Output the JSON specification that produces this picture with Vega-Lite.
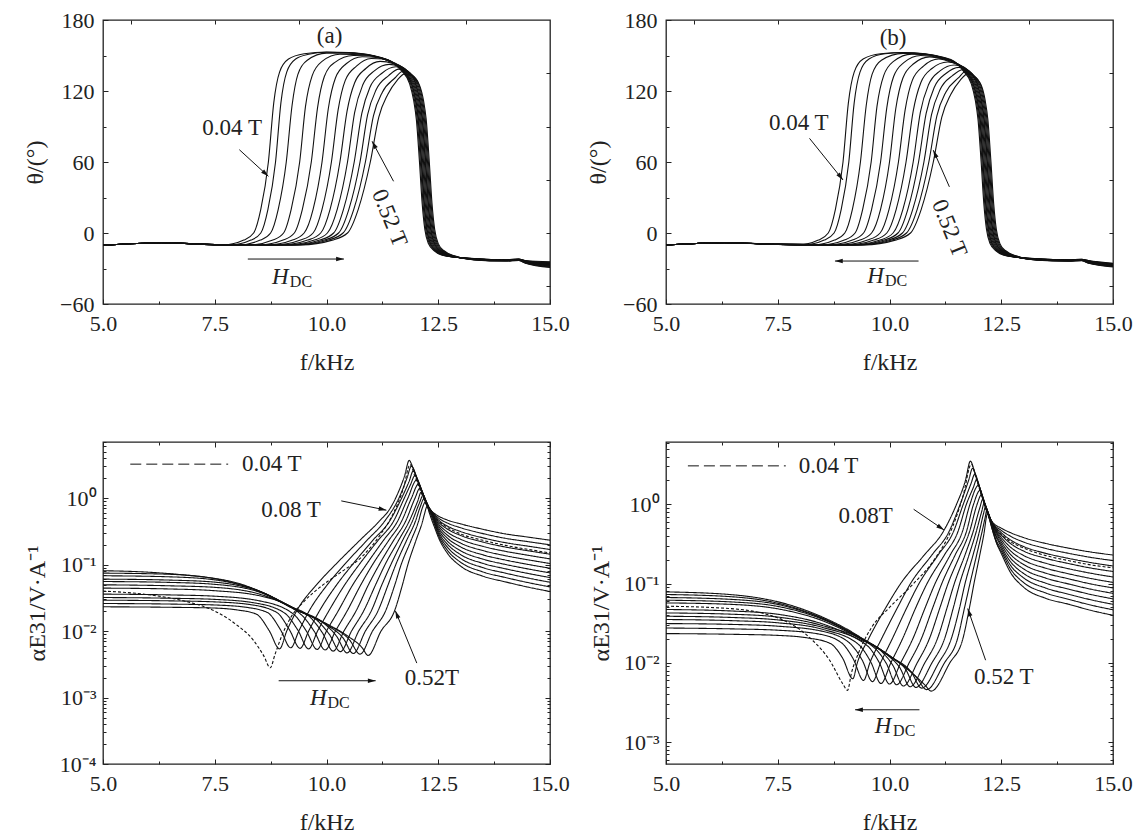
{
"$schema":"https://vega.github.io/schema/vega-lite/v6.json",
"background":"white",
"padding":{"left":22,"top":8,"right":5,"bottom":5},
"columns":2,
"align":"each",
"spacing":{"row":55,"column":15},
"config":{
 "view":{"stroke":"#222","strokeWidth":1.3},
 "axis":{"labelFont":"Liberation Serif","labelFontSize":22,"labelColor":"#222","titleFont":"Liberation Serif","titleFontSize":24,"titleFontWeight":"normal","titleColor":"#222","grid":false,"domain":false,"tickColor":"#222","tickWidth":1,"labelFlush":false,"labelOverlap":false,"labelBound":false},
 "text":{"font":"Liberation Serif","color":"#222"}
},
"datasets":{
"ta":[
{"h":"0.04","f":[5,6.3,7.5,7.7,8.15,8.37,8.53,8.7,8.82,8.95,9.15,9.5,10,10.5,10.9,11.2,11.45,11.68,11.86,11.95,12.01,12.08,12.14,12.2,12.28,12.41,12.66,13.3,14,14.3,14.45,15],"v":[-10.5,-8.2,-9.8,-10,-6,0,20,60,110,136,147,151.5,153,152.5,151,148.5,145,137,126,112,96,60,25,3,-9,-15,-19.5,-21.5,-22.5,-22,-23.2,-24.3]},
{"h":"0.08","f":[5,6.3,7.5,7.86,8.31,8.53,8.69,8.86,8.98,9.11,9.31,9.6,10,10.5,10.9,11.2,11.45,11.7,11.88,11.97,12.03,12.1,12.16,12.22,12.3,12.43,12.68,13.3,14,14.3,14.45,15],"v":[-10.5,-8.2,-9.8,-10,-6,0,20,60,110,136,147,151,152.8,152.3,150.8,148.3,144.8,137,126,112,96,60,25,3,-9,-15,-19.5,-21.6,-22.6,-22.1,-23.4,-24.7]},
{"h":"0.12","f":[5,6.3,7.5,8.05,8.52,8.75,8.92,9.1,9.23,9.36,9.57,10,10.5,10.9,11.2,11.45,11.71,11.9,11.99,12.05,12.12,12.18,12.24,12.32,12.45,12.7,13.3,14,14.3,14.45,15],"v":[-10.5,-8.2,-9.8,-10,-6,0,20,60,108,134,146,152,152,150.5,148,144.5,137,126,112,96,60,25,3,-9,-15,-19.5,-21.7,-22.7,-22.2,-23.6,-25.1]},
{"h":"0.16","f":[5,6.3,7.5,8.3,8.8,9.04,9.21,9.4,9.53,9.68,9.9,10.3,10.9,11.2,11.45,11.73,11.91,12,12.06,12.13,12.19,12.25,12.33,12.46,12.71,13.3,14,14.3,14.45,15],"v":[-10.5,-8.2,-9.8,-10,-6,0,20,60,107,133,145,151,150.5,148,144.5,137,126,112,96,60,25,3,-9,-15,-19.5,-21.8,-22.8,-22.3,-23.8,-25.5]},
{"h":"0.20","f":[5,6.3,7.5,8.51,9.03,9.28,9.46,9.66,9.8,9.95,10.18,10.6,10.95,11.2,11.45,11.75,11.93,12.02,12.08,12.15,12.21,12.27,12.35,12.48,12.73,13.3,14,14.3,14.45,15],"v":[-10.5,-8.2,-9.8,-10,-6,0,20,60,106,132,144,150,149.8,148,144.5,137,126,112,96,60,25,3,-9,-15,-19.5,-21.9,-22.9,-22.4,-24,-25.9]},
{"h":"0.24","f":[5,6.3,7.5,8.7,9.24,9.5,9.7,9.9,10.04,10.2,10.44,10.8,11.2,11.45,11.77,11.95,12.04,12.1,12.17,12.23,12.29,12.37,12.5,12.75,13.3,14,14.3,14.45,15],"v":[-10.5,-8.2,-9.8,-10,-6,0,20,60,105,131,143,149,148,144.5,137,126,112,96,60,25,3,-9,-15,-19.5,-22,-23,-22.5,-24.2,-26.3]},
{"h":"0.28","f":[5,6.3,7.5,8.86,9.42,9.7,9.9,10.11,10.26,10.42,10.67,11,11.3,11.5,11.79,11.97,12.06,12.12,12.19,12.25,12.31,12.39,12.52,12.77,13.3,14,14.3,14.45,15],"v":[-10.5,-8.2,-9.8,-10,-6,0,20,60,104,129,141,147.5,147,144,137,126,112,96,60,25,3,-9,-15,-19.5,-22.1,-23.1,-22.6,-24.4,-26.7]},
{"h":"0.32","f":[5,6.3,7.5,9,9.58,9.87,10.08,10.3,10.46,10.63,10.88,11.2,11.5,11.81,11.99,12.08,12.14,12.21,12.27,12.33,12.41,12.54,12.79,13.3,14,14.3,14.45,15],"v":[-10.5,-8.2,-9.8,-10,-6,0,20,60,103,127,139,145,143,137,126,112,96,60,25,3,-9,-15,-19.5,-22.2,-23.2,-22.7,-24.6,-27.1]},
{"h":"0.36","f":[5,6.3,7.5,9.12,9.73,10.02,10.24,10.47,10.63,10.81,11.07,11.4,11.83,12,12.09,12.15,12.22,12.28,12.34,12.42,12.55,12.8,13.3,14,14.3,14.45,15],"v":[-10.5,-8.2,-9.8,-10,-6,0,20,60,102,125,137,142.5,136.5,126,112,96,60,25,3,-9,-15,-19.5,-22.3,-23.3,-22.8,-24.8,-27.5]},
{"h":"0.40","f":[5,6.3,7.5,9.22,9.85,10.16,10.38,10.62,10.79,10.97,11.24,11.55,11.85,12.02,12.11,12.17,12.24,12.3,12.36,12.44,12.57,12.82,13.3,14,14.3,14.45,15],"v":[-10.5,-8.2,-9.8,-10,-6,0,20,60,101,123,135,140.5,135.5,126,112,96,60,25,3,-9,-15,-19.5,-22.4,-23.4,-22.9,-25,-27.9]},
{"h":"0.44","f":[5,6.3,7.5,9.3,9.95,10.27,10.5,10.75,10.92,11.11,11.39,11.62,11.87,12.04,12.13,12.19,12.26,12.32,12.38,12.46,12.59,12.84,13.3,14,14.3,14.45,15],"v":[-10.5,-8.2,-9.8,-10,-6,0,20,60,100,121,133,138.5,135,126,112,96,60,25,3,-9,-15,-19.5,-22.5,-23.5,-23,-25.2,-28.3]},
{"h":"0.48","f":[5,6.3,7.5,9.37,10.04,10.37,10.61,10.87,11.05,11.25,11.53,11.7,11.89,12.06,12.15,12.21,12.28,12.34,12.4,12.48,12.61,12.86,13.3,14,14.3,14.45,15],"v":[-10.5,-8.2,-9.8,-10,-6,0,20,60,99,119,131,136.5,134,126,112,96,60,25,3,-9,-15,-19.5,-22.6,-23.6,-23.1,-25.4,-28.7]},
{"h":"0.52","f":[5,6.3,7.5,9.43,10.13,10.47,10.71,10.98,11.17,11.37,11.58,11.75,11.91,12.08,12.17,12.23,12.3,12.36,12.42,12.5,12.63,12.88,13.3,14,14.3,14.45,15],"v":[-10.5,-8.2,-9.8,-10,-6,0,20,60,98,117,129,134.5,133,125,112,96,60,25,3,-9,-15,-19.5,-22.7,-23.7,-23.2,-25.6,-29.1]}
],
"tb":[
{"h":"0.04","f":[5,6.3,7.5,7.96,8.41,8.63,8.79,8.96,9.08,9.21,9.41,9.8,10.3,10.8,11.2,11.45,11.65,11.83,11.92,11.98,12.05,12.11,12.17,12.25,12.38,12.63,13.3,14,14.3,14.45,15],"v":[-10.2,-8.2,-9.6,-10,-6,0,20,60,110,136,147,151.5,152.5,151.5,148.5,145,137,126,112,96,60,25,3,-9,-15,-19.5,-21.7,-22.6,-22.2,-23.2,-25.6]},
{"h":"0.08","f":[5,6.3,7.5,8.09,8.54,8.76,8.92,9.09,9.21,9.34,9.54,9.9,10.3,10.8,11.2,11.45,11.67,11.85,11.94,12,12.07,12.13,12.19,12.27,12.4,12.65,13.3,14,14.3,14.45,15],"v":[-10.2,-8.2,-9.6,-10,-6,0,20,60,110,136,147,151.5,152.3,151.3,148.3,144.8,137,126,112,96,60,25,3,-9,-15,-19.5,-21.8,-22.7,-22.3,-23.4,-25.85]},
{"h":"0.12","f":[5,6.3,7.5,8.3,8.77,9,9.17,9.35,9.48,9.61,9.82,10.3,10.8,11.2,11.45,11.69,11.87,11.96,12.02,12.09,12.15,12.21,12.29,12.42,12.67,13.3,14,14.3,14.45,15],"v":[-10.2,-8.2,-9.6,-10,-6,0,20,60,108,134,146,151.8,151,148,144.5,137,126,112,96,60,25,3,-9,-15,-19.5,-21.9,-22.8,-22.4,-23.6,-26.1]},
{"h":"0.16","f":[5,6.3,7.5,8.49,8.99,9.23,9.4,9.59,9.72,9.87,10.09,10.5,10.9,11.2,11.45,11.7,11.88,11.97,12.03,12.1,12.16,12.22,12.3,12.43,12.68,13.3,14,14.3,14.45,15],"v":[-10.2,-8.2,-9.6,-10,-6,0,20,60,107,133,145,151.2,150.3,147.8,144.5,137,126,112,96,60,25,3,-9,-15,-19.5,-22,-22.9,-22.5,-23.8,-26.35]},
{"h":"0.20","f":[5,6.3,7.5,8.65,9.17,9.42,9.6,9.8,9.94,10.09,10.32,10.7,11.2,11.45,11.72,11.9,11.99,12.05,12.12,12.18,12.24,12.32,12.45,12.7,13.3,14,14.3,14.45,15],"v":[-10.2,-8.2,-9.6,-10,-6,0,20,60,106,132,144,150,147.5,144.3,137,126,112,96,60,25,3,-9,-15,-19.5,-22.1,-23,-22.6,-24,-26.6]},
{"h":"0.24","f":[5,6.3,7.5,8.8,9.34,9.6,9.8,10,10.14,10.3,10.54,10.9,11.25,11.5,11.74,11.92,12.01,12.07,12.14,12.2,12.26,12.34,12.47,12.72,13.3,14,14.3,14.45,15],"v":[-10.2,-8.2,-9.6,-10,-6,0,20,60,105,131,143,148.8,146.5,143.5,137,126,112,96,60,25,3,-9,-15,-19.5,-22.2,-23.1,-22.7,-24.2,-26.85]},
{"h":"0.28","f":[5,6.3,7.5,8.95,9.51,9.79,9.99,10.2,10.35,10.51,10.76,11.1,11.4,11.76,11.94,12.03,12.09,12.16,12.22,12.28,12.36,12.49,12.74,13.3,14,14.3,14.45,15],"v":[-10.2,-8.2,-9.6,-10,-6,0,20,60,104,129,141,147,144,137,126,112,96,60,25,3,-9,-15,-19.5,-22.3,-23.2,-22.8,-24.4,-27.1]},
{"h":"0.32","f":[5,6.3,7.5,9.07,9.65,9.94,10.15,10.37,10.53,10.7,10.95,11.3,11.78,11.96,12.05,12.11,12.18,12.24,12.3,12.38,12.51,12.76,13.3,14,14.3,14.45,15],"v":[-10.2,-8.2,-9.6,-10,-6,0,20,60,103,127,139,144.5,137,126,112,96,60,25,3,-9,-15,-19.5,-22.4,-23.3,-22.9,-24.6,-27.35]},
{"h":"0.36","f":[5,6.3,7.5,9.18,9.79,10.08,10.3,10.53,10.69,10.87,11.13,11.45,11.79,11.97,12.06,12.12,12.19,12.25,12.31,12.39,12.52,12.77,13.3,14,14.3,14.45,15],"v":[-10.2,-8.2,-9.6,-10,-6,0,20,60,102,125,137,142,136.5,126,112,96,60,25,3,-9,-15,-19.5,-22.5,-23.4,-23,-24.8,-27.6]},
{"h":"0.40","f":[5,6.3,7.5,9.25,9.88,10.19,10.41,10.65,10.82,11,11.27,11.55,11.81,11.99,12.08,12.14,12.21,12.27,12.33,12.41,12.54,12.79,13.3,14,14.3,14.45,15],"v":[-10.2,-8.2,-9.6,-10,-6,0,20,60,101,123,135,140,135.5,126,112,96,60,25,3,-9,-15,-19.5,-22.6,-23.5,-23.1,-25,-27.85]},
{"h":"0.44","f":[5,6.3,7.5,9.32,9.97,10.29,10.52,10.77,10.94,11.13,11.41,11.64,11.83,12.01,12.1,12.16,12.23,12.29,12.35,12.43,12.56,12.81,13.3,14,14.3,14.45,15],"v":[-10.2,-8.2,-9.6,-10,-6,0,20,60,100,121,133,138,135,126,112,96,60,25,3,-9,-15,-19.5,-22.7,-23.6,-23.2,-25.2,-28.1]},
{"h":"0.48","f":[5,6.3,7.5,9.38,10.05,10.38,10.62,10.88,11.06,11.26,11.54,11.7,11.85,12.03,12.12,12.18,12.25,12.31,12.37,12.45,12.58,12.83,13.3,14,14.3,14.45,15],"v":[-10.2,-8.2,-9.6,-10,-6,0,20,60,99,119,131,136.5,134,126,112,96,60,25,3,-9,-15,-19.5,-22.8,-23.7,-23.3,-25.4,-28.35]},
{"h":"0.52","f":[5,6.3,7.5,9.43,10.13,10.47,10.71,10.98,11.17,11.37,11.58,11.75,11.87,12.05,12.14,12.2,12.27,12.33,12.39,12.47,12.6,12.85,13.3,14,14.3,14.45,15],"v":[-10.2,-8.2,-9.6,-10,-6,0,20,60,98,117,129,134.5,133,125,112,96,60,25,3,-9,-15,-19.5,-22.9,-23.8,-23.4,-25.6,-28.6]}
],
"bc":[
{"h":"0.04","f":[5,5.9,6.75,7.5,7.97,8.37,8.6,8.74,8.85,9,9.2,9.5,9.84,10.3,10.81,11.2,11.5,11.72,11.87,11.97,12.12,12.3,12.5,12.7,13,13.5,14,14.5,15],"v":[0.04,0.036,0.029,0.02,0.0127,0.0072,0.0042,0.0028,0.0045,0.0085,0.016,0.028,0.045,0.075,0.135,0.28,0.6,1.4,3.2,2.2,1.2,0.66,0.46,0.365,0.29,0.232,0.195,0.17,0.15]},
{"h":"0.08","f":[5,6.5,7.5,8,8.43,8.72,8.95,9.11,9.33,9.78,10.2,10.74,11.18,11.41,11.6,11.75,11.85,11.93,12.04,12.15,12.23,12.35,12.5,12.7,13,13.5,14,14.5,15],"v":[0.0232,0.0228,0.0222,0.0208,0.018,0.0101,0.0054,0.01,0.02,0.05,0.1,0.23,0.45,0.68,1.2,2.2,3.7,2.9,1.8,1.15,0.81,0.64,0.54,0.47,0.41,0.34,0.29,0.26,0.233]},
{"h":"0.12","f":[5,6.5,7.5,8.2,8.68,8.97,9.2,9.38,9.61,10.02,10.4,10.9,11.3,11.62,11.8,11.9,12.04,12.15,12.24,12.36,12.5,12.7,13,13.5,14,14.5,15],"v":[0.026,0.0255,0.0247,0.0228,0.019,0.0105,0.0056,0.01,0.02,0.05,0.1,0.23,0.45,1,2,3.04,1.85,1.17,0.82,0.63,0.505,0.424,0.359,0.293,0.249,0.222,0.1986]},
{"h":"0.16","f":[5,6.5,7.5,8.3,8.89,9.17,9.41,9.6,9.84,10.23,10.58,11.03,11.41,11.68,11.85,11.94,12.04,12.15,12.24,12.36,12.5,12.7,13,13.5,14,14.5,15],"v":[0.0292,0.0285,0.0275,0.025,0.019,0.0105,0.0055,0.01,0.02,0.05,0.1,0.23,0.45,1,1.8,2.56,1.9,1.2,0.83,0.62,0.473,0.382,0.315,0.253,0.214,0.19,0.1688]},
{"h":"0.20","f":[5,6.5,7.5,8.4,9.07,9.36,9.6,9.8,10.05,10.41,10.73,11.15,11.5,11.74,11.88,11.98,12.06,12.15,12.24,12.36,12.5,12.7,13,13.5,14,14.5,15],"v":[0.032,0.0312,0.03,0.0265,0.0185,0.0103,0.0054,0.01,0.02,0.05,0.1,0.23,0.45,1,1.6,2.2,1.75,1.22,0.84,0.61,0.443,0.344,0.275,0.218,0.184,0.162,0.1435]},
{"h":"0.24","f":[5,6.5,7.5,8.5,9.26,9.55,9.79,10,10.26,10.59,10.89,11.27,11.59,11.82,12.02,12.1,12.18,12.26,12.36,12.5,12.7,13,13.5,14,14.5,15],"v":[0.036,0.035,0.0335,0.0285,0.018,0.01,0.0053,0.01,0.02,0.05,0.1,0.23,0.45,1,1.88,1.45,1.08,0.8,0.6,0.414,0.31,0.241,0.188,0.1585,0.1385,0.122]},
{"h":"0.28","f":[5,6.5,7.5,8.5,9.44,9.73,9.97,10.2,10.46,10.77,11.03,11.39,11.68,11.9,12.06,12.13,12.2,12.27,12.36,12.5,12.7,13,13.5,14,14.5,15],"v":[0.0443,0.043,0.0405,0.034,0.0175,0.0098,0.0052,0.01,0.02,0.05,0.1,0.23,0.45,1,1.63,1.3,1,0.78,0.59,0.388,0.279,0.211,0.1626,0.1363,0.1183,0.1038]},
{"h":"0.32","f":[5,6.5,7.5,8.5,9.2,9.62,9.91,10.15,10.39,10.66,10.94,11.18,11.5,11.77,11.98,12.09,12.16,12.24,12.36,12.5,12.7,13,13.5,14,14.5,15],"v":[0.0497,0.048,0.0455,0.036,0.0235,0.0165,0.0094,0.005,0.01,0.02,0.05,0.1,0.23,0.45,1,1.41,1.15,0.86,0.58,0.363,0.252,0.185,0.1403,0.1172,0.101,0.0883]},
{"h":"0.36","f":[5,6.5,7.5,8.5,9.3,9.8,10.07,10.31,10.56,10.83,11.1,11.31,11.61,11.85,12.04,12.12,12.19,12.26,12.36,12.5,12.7,13,13.5,14,14.5,15],"v":[0.0557,0.054,0.0505,0.0385,0.021,0.0143,0.0088,0.0049,0.01,0.02,0.05,0.1,0.23,0.45,0.9,1.24,1,0.8,0.57,0.34,0.227,0.162,0.121,0.1007,0.0863,0.0751]},
{"h":"0.40","f":[5,6.5,7.5,8.5,9.3,9.95,10.23,10.46,10.72,11,11.24,11.44,11.7,11.92,12.08,12.16,12.23,12.3,12.37,12.5,12.7,13,13.5,14,14.5,15],"v":[0.0605,0.0585,0.0545,0.0395,0.0212,0.013,0.0083,0.0047,0.01,0.02,0.05,0.1,0.23,0.45,0.85,1.1,0.88,0.7,0.55,0.318,0.205,0.1416,0.1044,0.0866,0.0738,0.0639]},
{"h":"0.44","f":[5,6.5,7.5,8.5,9.3,10,10.37,10.6,10.87,11.15,11.38,11.55,11.79,11.99,12.1,12.18,12.25,12.31,12.38,12.5,12.7,13,13.5,14,14.5,15],"v":[0.068,0.0655,0.059,0.0398,0.0213,0.0124,0.0079,0.0046,0.01,0.02,0.05,0.1,0.23,0.45,0.75,0.98,0.8,0.65,0.5,0.298,0.1845,0.124,0.0901,0.0745,0.063,0.0543]},
{"h":"0.48","f":[5,6.5,7.5,8.5,9.3,10,10.52,10.75,11.03,11.32,11.53,11.67,11.89,12.06,12.14,12.21,12.27,12.33,12.4,12.5,12.7,13,13.5,14,14.5,15],"v":[0.0745,0.0715,0.0615,0.04,0.0214,0.0127,0.0073,0.0045,0.01,0.02,0.05,0.1,0.23,0.45,0.7,0.87,0.72,0.57,0.43,0.279,0.166,0.1086,0.0777,0.064,0.0538,0.0462]},
{"h":"0.52","f":[5,6,7,7.5,8,8.65,9.4,10.14,10.5,10.8,10.93,11.22,11.52,11.7,11.82,12,12.15,12.19,12.25,12.3,12.36,12.42,12.5,12.7,13,13.5,14,14.5,15],"v":[0.081,0.077,0.068,0.062,0.053,0.036,0.02,0.0115,0.0082,0.0056,0.0043,0.01,0.02,0.05,0.1,0.23,0.45,0.57,0.75,0.6,0.46,0.36,0.26,0.15,0.095,0.067,0.055,0.046,0.0394]}
],
"bd":[
{"h":"0.04","f":[5,6.42,7.54,8.28,8.66,8.95,9.06,9.15,9.3,9.6,10,10.5,11,11.4,11.65,11.83,11.95,12.1,12.25,12.5,12.7,13,13.5,14,14.5,15],"v":[0.0518,0.0484,0.0362,0.0192,0.0108,0.0055,0.0045,0.0075,0.013,0.028,0.05,0.095,0.2,0.5,1.3,3.2,2,1.1,0.62,0.42,0.34,0.28,0.225,0.195,0.172,0.158]},
{"h":"0.08","f":[5,6.5,7.5,8.2,8.68,8.95,9.18,9.28,9.53,9.92,10.25,10.78,11.2,11.5,11.7,11.81,11.9,12,12.1,12.2,12.3,12.5,12.7,13,13.5,14,14.5,15],"v":[0.0234,0.0229,0.0222,0.0205,0.0175,0.0115,0.0063,0.01,0.02,0.05,0.1,0.23,0.45,1,2,3.5,2.6,1.7,1.1,0.75,0.6,0.5,0.44,0.38,0.32,0.28,0.25,0.229]},
{"h":"0.12","f":[5,6.5,7.5,8.4,8.92,9.19,9.42,9.56,9.82,10.18,10.47,10.95,11.33,11.58,11.77,11.86,11.95,12.05,12.15,12.3,12.5,12.7,13,13.5,14,14.5,15],"v":[0.0275,0.0268,0.0258,0.0232,0.018,0.0112,0.006,0.01,0.02,0.05,0.1,0.23,0.45,1,2,2.85,2.1,1.4,0.93,0.59,0.468,0.397,0.334,0.277,0.241,0.214,0.195]},
{"h":"0.16","f":[5,6.5,7.5,8.5,9.12,9.39,9.62,9.8,10.06,10.39,10.66,11.09,11.43,11.65,11.82,11.91,12,12.1,12.2,12.3,12.5,12.7,13,13.5,14,14.5,15],"v":[0.0313,0.0305,0.029,0.025,0.0175,0.0108,0.0058,0.01,0.02,0.05,0.1,0.23,0.45,1,1.8,2.4,1.75,1.12,0.77,0.58,0.438,0.357,0.293,0.24,0.208,0.184,0.1665]},
{"h":"0.20","f":[5,6.5,7.5,8.5,9.31,9.58,9.81,10.03,10.29,10.59,10.84,11.23,11.53,11.72,11.87,11.95,12.03,12.12,12.21,12.3,12.5,12.7,13,13.5,14,14.5,15],"v":[0.0352,0.034,0.032,0.0265,0.017,0.0103,0.0055,0.01,0.02,0.05,0.1,0.23,0.45,1,1.6,2.04,1.55,1.05,0.75,0.57,0.409,0.322,0.257,0.208,0.179,0.157,0.142]},
{"h":"0.24","f":[5,6.5,7.5,8.5,9.5,9.77,10,10.25,10.52,10.8,11.02,11.36,11.63,11.8,11.99,12.07,12.15,12.23,12.31,12.5,12.7,13,13.5,14,14.5,15],"v":[0.0387,0.0373,0.0348,0.028,0.0165,0.0101,0.0054,0.01,0.02,0.05,0.1,0.23,0.45,1,1.73,1.3,0.95,0.72,0.55,0.383,0.29,0.226,0.18,0.154,0.135,0.121]},
{"h":"0.28","f":[5,6.5,7.5,8.5,9.66,9.93,10.16,10.44,10.71,10.97,11.17,11.47,11.72,11.88,12.03,12.1,12.17,12.24,12.32,12.5,12.7,13,13.5,14,14.5,15],"v":[0.0426,0.041,0.0378,0.0295,0.0155,0.0098,0.0053,0.01,0.02,0.05,0.1,0.23,0.45,1,1.51,1.15,0.88,0.7,0.53,0.358,0.261,0.198,0.156,0.133,0.116,0.1033]},
{"h":"0.32","f":[5,6.5,7.5,8.5,9.3,9.81,10.08,10.31,10.62,10.89,11.13,11.31,11.58,11.79,11.96,12.06,12.13,12.2,12.33,12.5,12.7,13,13.5,14,14.5,15],"v":[0.0471,0.045,0.041,0.031,0.02,0.0142,0.0092,0.0051,0.01,0.02,0.05,0.1,0.23,0.45,1,1.33,1.02,0.8,0.5,0.335,0.235,0.174,0.135,0.115,0.099,0.0881]},
{"h":"0.36","f":[5,6.5,7.5,8.5,9.3,9.96,10.23,10.46,10.79,11.07,11.29,11.45,11.69,11.87,12.02,12.09,12.16,12.23,12.34,12.5,12.7,13,13.5,14,14.5,15],"v":[0.057,0.0545,0.048,0.034,0.0208,0.0125,0.0087,0.005,0.01,0.02,0.05,0.1,0.23,0.45,0.9,1.17,0.92,0.72,0.46,0.313,0.212,0.153,0.117,0.099,0.085,0.0752]},
{"h":"0.40","f":[5,6.5,7.5,8.5,9.3,10,10.36,10.59,10.95,11.23,11.43,11.57,11.78,11.94,12.06,12.12,12.19,12.26,12.36,12.5,12.7,13,13.5,14,14.5,15],"v":[0.0617,0.0585,0.0515,0.0355,0.0212,0.0121,0.0083,0.0049,0.01,0.02,0.05,0.1,0.23,0.45,0.8,1.04,0.82,0.63,0.42,0.293,0.191,0.134,0.101,0.0853,0.0729,0.0641]},
{"h":"0.44","f":[5,6.5,7.5,8.5,9.3,10,10.49,10.72,11.1,11.38,11.57,11.69,11.87,12.01,12.1,12.15,12.22,12.29,12.38,12.5,12.7,13,13.5,14,14.5,15],"v":[0.0667,0.063,0.0545,0.0362,0.0214,0.0122,0.0076,0.0048,0.01,0.02,0.05,0.1,0.23,0.45,0.75,0.93,0.72,0.53,0.36,0.274,0.172,0.118,0.0876,0.0735,0.0625,0.0547]},
{"h":"0.48","f":[5,6.5,7.5,8.5,9.3,10,10.6,10.83,11.23,11.52,11.68,11.8,11.95,12.07,12.14,12.18,12.24,12.31,12.4,12.5,12.7,13,13.5,14,14.5,15],"v":[0.0728,0.068,0.0565,0.0367,0.0216,0.0123,0.0066,0.0046,0.01,0.02,0.05,0.1,0.23,0.45,0.68,0.85,0.64,0.46,0.32,0.256,0.155,0.103,0.0759,0.0634,0.0536,0.0467]},
{"h":"0.52","f":[5,6.42,7.16,7.5,7.91,8.66,9.03,9.4,9.77,10.14,10.52,10.8,10.93,11.35,11.64,11.79,11.89,12.02,12.12,12.17,12.2,12.26,12.33,12.42,12.5,12.7,13,13.5,14,14.5,15],"v":[0.0785,0.0728,0.0646,0.059,0.0507,0.0344,0.027,0.0202,0.0151,0.0108,0.0073,0.0052,0.0044,0.01,0.02,0.05,0.1,0.23,0.45,0.7,0.78,0.58,0.42,0.3,0.24,0.14,0.09,0.065,0.055,0.046,0.0398]}
]
},
"concat":[
{
 "width":447,"height":284,
 "resolve":{"axis":{"x":"independent","y":"independent"}},
 "layer":[
  {"data":{"name":"ta"},"transform":[{"flatten":["f","v"]}],
   "mark":{"type":"line","interpolate":"monotone","color":"#111","strokeWidth":1.1,"clip":true},
   "encoding":{
    "x":{"field":"f","type":"quantitative","scale":{"domain":[5,15],"nice":false,"zero":false},
         "axis":{"orient":"bottom","values":[5,6.25,7.5,8.75,10,11.25,12.5,13.75,15],"labelExpr":"datum.value % 2.5 === 0 ? format(datum.value, '.1f') : ''","tickSize":{"condition":{"test":"datum.value % 2.5 === 0","value":-5},"value":-3},"title":"f/kHz","labelPadding":14,"titlePadding":14}},
    "y":{"field":"v","type":"quantitative","scale":{"domain":[-60,180],"nice":false,"zero":false},
         "axis":{"orient":"left","values":[-60,-30,0,30,60,90,120,150,180],"labelExpr":"datum.value % 60 === 0 ? format(datum.value, 'd') : ''","tickSize":{"condition":{"test":"datum.value % 60 === 0","value":-5},"value":-3},"title":"θ/(°)","labelPadding":14,"titlePadding":12}},
    "detail":{"field":"h"}}},
  {"data":{"values":[{"f":8.05,"v":70.4,"f2":8.7,"v2":47.9},{"f":11.5,"v":43.7,"f2":11.02,"v2":77.5},{"f":8.24,"v":-22,"f2":10.39,"v2":-22}]},
   "mark":{"type":"rule","color":"#111","strokeWidth":1},
   "encoding":{
    "x":{"field":"f","type":"quantitative","scale":{"domain":[5,15],"nice":false,"zero":false},"axis":{"orient":"top","values":[5.625,7.5,9.375,11.25,13.125],"labels":false,"title":null,"tickSize":-4}},
    "y":{"field":"v","type":"quantitative","scale":{"domain":[-60,180],"nice":false,"zero":false},"axis":{"orient":"right","values":[-45,0,45,90,135],"labels":false,"title":null,"tickSize":-4}},
    "x2":{"field":"f2"},"y2":{"field":"v2"}}},
  {"data":{"values":[{"f":8.7,"v":47.9}]},"mark":{"type":"point","shape":"M0,0L-0.32,1.1L0.32,1.1Z","size":200,"filled":true,"color":"#111","opacity":1,"angle":132.5},
   "encoding":{"x":{"field":"f","type":"quantitative","scale":{"domain":[5,15],"nice":false,"zero":false},"axis":null},"y":{"field":"v","type":"quantitative","scale":{"domain":[-60,180],"nice":false,"zero":false},"axis":null}}},
  {"data":{"values":[{"f":11.02,"v":77.5}]},"mark":{"type":"point","shape":"M0,0L-0.32,1.1L0.32,1.1Z","size":200,"filled":true,"color":"#111","opacity":1,"angle":-28},
   "encoding":{"x":{"field":"f","type":"quantitative","scale":{"domain":[5,15],"nice":false,"zero":false},"axis":null},"y":{"field":"v","type":"quantitative","scale":{"domain":[-60,180],"nice":false,"zero":false},"axis":null}}},
  {"data":{"values":[{"f":10.39,"v":-22}]},"mark":{"type":"point","shape":"M0,0L-0.32,1.1L0.32,1.1Z","size":200,"filled":true,"color":"#111","opacity":1,"angle":90},
   "encoding":{"x":{"field":"f","type":"quantitative","scale":{"domain":[5,15],"nice":false,"zero":false},"axis":null},"y":{"field":"v","type":"quantitative","scale":{"domain":[-60,180],"nice":false,"zero":false},"axis":null}}},
  {"data":{"values":[{"f":10.07,"v":166.8,"t":"(a)"},{"f":7.89,"v":88.7,"t":"0.04 T"}]},"mark":{"type":"text","fontSize":23,"align":"center","baseline":"middle"},
   "encoding":{"x":{"field":"f","type":"quantitative","scale":{"domain":[5,15],"nice":false,"zero":false},"axis":null},"y":{"field":"v","type":"quantitative","scale":{"domain":[-60,180],"nice":false,"zero":false},"axis":null},"text":{"field":"t"}}},
  {"data":{"values":[{"f":11.41,"v":12.7,"t":"0.52 T"}]},"mark":{"type":"text","fontSize":23,"align":"center","baseline":"middle","angle":68},
   "encoding":{"x":{"field":"f","type":"quantitative","scale":{"domain":[5,15],"nice":false,"zero":false},"axis":null},"y":{"field":"v","type":"quantitative","scale":{"domain":[-60,180],"nice":false,"zero":false},"axis":null},"text":{"field":"t"}}},
  {"data":{"values":[{"f":8.78,"v":-43.5,"t":"H"}]},"mark":{"type":"text","fontSize":23,"fontStyle":"italic","align":"left","baseline":"alphabetic"},
   "encoding":{"x":{"field":"f","type":"quantitative","scale":{"domain":[5,15],"nice":false,"zero":false},"axis":null},"y":{"field":"v","type":"quantitative","scale":{"domain":[-60,180],"nice":false,"zero":false},"axis":null},"text":{"field":"t"}}},
  {"data":{"values":[{"f":9.18,"v":-45.5,"t":"DC"}]},"mark":{"type":"text","fontSize":16,"align":"left","baseline":"alphabetic"},
   "encoding":{"x":{"field":"f","type":"quantitative","scale":{"domain":[5,15],"nice":false,"zero":false},"axis":null},"y":{"field":"v","type":"quantitative","scale":{"domain":[-60,180],"nice":false,"zero":false},"axis":null},"text":{"field":"t"}}}
 ]
},
{
 "width":447,"height":284,
 "resolve":{"axis":{"x":"independent","y":"independent"}},
 "layer":[
  {"data":{"name":"tb"},"transform":[{"flatten":["f","v"]}],
   "mark":{"type":"line","interpolate":"monotone","color":"#111","strokeWidth":1.1,"clip":true},
   "encoding":{
    "x":{"field":"f","type":"quantitative","scale":{"domain":[5,15],"nice":false,"zero":false},
         "axis":{"orient":"bottom","values":[5,6.25,7.5,8.75,10,11.25,12.5,13.75,15],"labelExpr":"datum.value % 2.5 === 0 ? format(datum.value, '.1f') : ''","tickSize":{"condition":{"test":"datum.value % 2.5 === 0","value":-5},"value":-3},"title":"f/kHz","labelPadding":14,"titlePadding":14}},
    "y":{"field":"v","type":"quantitative","scale":{"domain":[-60,180],"nice":false,"zero":false},
         "axis":{"orient":"left","values":[-60,-30,0,30,60,90,120,150,180],"labelExpr":"datum.value % 60 === 0 ? format(datum.value, 'd') : ''","tickSize":{"condition":{"test":"datum.value % 60 === 0","value":-5},"value":-3},"title":"θ/(°)","labelPadding":14,"titlePadding":12}},
    "detail":{"field":"h"}}},
  {"data":{"values":[{"f":8.21,"v":80,"f2":8.96,"v2":44.8},{"f":11.34,"v":39,"f2":10.98,"v2":70},{"f":10.65,"v":-23.7,"f2":8.78,"v2":-23.7}]},
   "mark":{"type":"rule","color":"#111","strokeWidth":1},
   "encoding":{
    "x":{"field":"f","type":"quantitative","scale":{"domain":[5,15],"nice":false,"zero":false},"axis":{"orient":"top","values":[5.625,7.5,9.375,11.25,13.125],"labels":false,"title":null,"tickSize":-4}},
    "y":{"field":"v","type":"quantitative","scale":{"domain":[-60,180],"nice":false,"zero":false},"axis":{"orient":"right","values":[-45,0,45,90,135],"labels":false,"title":null,"tickSize":-4}},
    "x2":{"field":"f2"},"y2":{"field":"v2"}}},
  {"data":{"values":[{"f":8.96,"v":44.8}]},"mark":{"type":"point","shape":"M0,0L-0.32,1.1L0.32,1.1Z","size":200,"filled":true,"color":"#111","opacity":1,"angle":141},
   "encoding":{"x":{"field":"f","type":"quantitative","scale":{"domain":[5,15],"nice":false,"zero":false},"axis":null},"y":{"field":"v","type":"quantitative","scale":{"domain":[-60,180],"nice":false,"zero":false},"axis":null}}},
  {"data":{"values":[{"f":10.98,"v":70}]},"mark":{"type":"point","shape":"M0,0L-0.32,1.1L0.32,1.1Z","size":200,"filled":true,"color":"#111","opacity":1,"angle":-23.7},
   "encoding":{"x":{"field":"f","type":"quantitative","scale":{"domain":[5,15],"nice":false,"zero":false},"axis":null},"y":{"field":"v","type":"quantitative","scale":{"domain":[-60,180],"nice":false,"zero":false},"axis":null}}},
  {"data":{"values":[{"f":8.78,"v":-23.7}]},"mark":{"type":"point","shape":"M0,0L-0.32,1.1L0.32,1.1Z","size":200,"filled":true,"color":"#111","opacity":1,"angle":-90},
   "encoding":{"x":{"field":"f","type":"quantitative","scale":{"domain":[5,15],"nice":false,"zero":false},"axis":null},"y":{"field":"v","type":"quantitative","scale":{"domain":[-60,180],"nice":false,"zero":false},"axis":null}}},
  {"data":{"values":[{"f":10.08,"v":165,"t":"(b)"},{"f":7.97,"v":92.7,"t":"0.04 T"}]},"mark":{"type":"text","fontSize":23,"align":"center","baseline":"middle"},
   "encoding":{"x":{"field":"f","type":"quantitative","scale":{"domain":[5,15],"nice":false,"zero":false},"axis":null},"y":{"field":"v","type":"quantitative","scale":{"domain":[-60,180],"nice":false,"zero":false},"axis":null},"text":{"field":"t"}}},
  {"data":{"values":[{"f":11.34,"v":4,"t":"0.52 T"}]},"mark":{"type":"text","fontSize":23,"align":"center","baseline":"middle","angle":68},
   "encoding":{"x":{"field":"f","type":"quantitative","scale":{"domain":[5,15],"nice":false,"zero":false},"axis":null},"y":{"field":"v","type":"quantitative","scale":{"domain":[-60,180],"nice":false,"zero":false},"axis":null},"text":{"field":"t"}}},
  {"data":{"values":[{"f":9.5,"v":-42.5,"t":"H"}]},"mark":{"type":"text","fontSize":23,"fontStyle":"italic","align":"left","baseline":"alphabetic"},
   "encoding":{"x":{"field":"f","type":"quantitative","scale":{"domain":[5,15],"nice":false,"zero":false},"axis":null},"y":{"field":"v","type":"quantitative","scale":{"domain":[-60,180],"nice":false,"zero":false},"axis":null},"text":{"field":"t"}}},
  {"data":{"values":[{"f":9.9,"v":-44.5,"t":"DC"}]},"mark":{"type":"text","fontSize":16,"align":"left","baseline":"alphabetic"},
   "encoding":{"x":{"field":"f","type":"quantitative","scale":{"domain":[5,15],"nice":false,"zero":false},"axis":null},"y":{"field":"v","type":"quantitative","scale":{"domain":[-60,180],"nice":false,"zero":false},"axis":null},"text":{"field":"t"}}}
 ]
},
{
 "width":447,"height":322,
 "resolve":{"axis":{"x":"independent","y":"independent"}},
 "layer":[
  {"data":{"name":"bc"},"transform":[{"flatten":["f","v"]}],
   "mark":{"type":"line","interpolate":"monotone","color":"#111","strokeWidth":1.1,"clip":true},
   "encoding":{
    "x":{"field":"f","type":"quantitative","scale":{"domain":[5,15],"nice":false,"zero":false},
         "axis":{"orient":"bottom","values":[5,6.25,7.5,8.75,10,11.25,12.5,13.75,15],"labelExpr":"datum.value % 2.5 === 0 ? format(datum.value, '.1f') : ''","tickSize":{"condition":{"test":"datum.value % 2.5 === 0","value":-5},"value":-3},"title":"f/kHz","labelPadding":14,"titlePadding":14}},
    "y":{"field":"v","type":"quantitative","scale":{"type":"log","domain":[0.0001,7],"nice":false},
         "axis":{"orient":"left","values":[0.0001,0.0002,0.0003,0.0004,0.0005,0.0006,0.0007,0.0008,0.0009,0.001,0.002,0.003,0.004,0.005,0.006,0.007,0.008,0.009,0.01,0.02,0.03,0.04,0.05,0.06,0.07,0.08,0.09,0.1,0.2,0.3,0.4,0.5,0.6,0.7,0.8,0.9,1,2,3,4,5,6,7],"labelExpr":"datum.value==1?'10⁰':datum.value==0.1?'10⁻¹':datum.value==0.01?'10⁻²':datum.value==0.001?'10⁻³':datum.value==0.0001?'10⁻⁴':''","tickSize":{"condition":{"test":"datum.value==1||datum.value==0.1||datum.value==0.01||datum.value==0.001||datum.value==0.0001","value":-5},"value":-3},"title":"αE31/V·A⁻¹","labelPadding":12,"titlePadding":10}},
    "detail":{"field":"h"},
    "strokeDash":{"field":"h","type":"nominal","scale":{"domain":["0.04","0.08","0.12","0.16","0.20","0.24","0.28","0.32","0.36","0.40","0.44","0.48","0.52"],"range":[[3,2],[1,0],[1,0],[1,0],[1,0],[1,0],[1,0],[1,0],[1,0],[1,0],[1,0],[1,0],[1,0]]},"legend":null}}},
  {"data":{"values":[{"f":10.33,"v":0.91,"f2":11.34,"v2":0.66},{"f":12.02,"v":0.0033,"f2":11.54,"v2":0.0202},{"f":8.93,"v":0.00179,"f2":11.1,"v2":0.00179}]},
   "mark":{"type":"rule","color":"#111","strokeWidth":1},
   "encoding":{
    "x":{"field":"f","type":"quantitative","scale":{"domain":[5,15],"nice":false,"zero":false},"axis":{"orient":"top","values":[5,6.25,7.5,8.75,10,11.25,12.5,13.75,15],"labels":false,"title":null,"tickSize":{"condition":{"test":"datum.value % 2.5 === 0","value":-5},"value":-3}}},
    "y":{"field":"v","type":"quantitative","scale":{"type":"log","domain":[0.0001,7],"nice":false},"axis":{"orient":"right","values":[0.0001,0.0002,0.0003,0.0004,0.0005,0.0006,0.0007,0.0008,0.0009,0.001,0.002,0.003,0.004,0.005,0.006,0.007,0.008,0.009,0.01,0.02,0.03,0.04,0.05,0.06,0.07,0.08,0.09,0.1,0.2,0.3,0.4,0.5,0.6,0.7,0.8,0.9,1,2,3,4,5,6,7],"labels":false,"title":null,"tickSize":{"condition":{"test":"datum.value==1||datum.value==0.1||datum.value==0.01||datum.value==0.001||datum.value==0.0001","value":-5},"value":-3}}},
    "x2":{"field":"f2"},"y2":{"field":"v2"}}},
  {"data":{"values":[{"f":5.61,"v":3.25,"f2":7.8}]},"mark":{"type":"rule","color":"#111","strokeWidth":1,"strokeDash":[11,5]},
   "encoding":{"x":{"field":"f","type":"quantitative","scale":{"domain":[5,15],"nice":false,"zero":false},"axis":null},"y":{"field":"v","type":"quantitative","scale":{"type":"log","domain":[0.0001,7],"nice":false},"axis":null},"x2":{"field":"f2"}}},
  {"data":{"values":[{"f":11.34,"v":0.66}]},"mark":{"type":"point","shape":"M0,0L-0.32,1.1L0.32,1.1Z","size":200,"filled":true,"color":"#111","opacity":1,"angle":101.7},
   "encoding":{"x":{"field":"f","type":"quantitative","scale":{"domain":[5,15],"nice":false,"zero":false},"axis":null},"y":{"field":"v","type":"quantitative","scale":{"type":"log","domain":[0.0001,7],"nice":false},"axis":null}}},
  {"data":{"values":[{"f":11.54,"v":0.0202}]},"mark":{"type":"point","shape":"M0,0L-0.32,1.1L0.32,1.1Z","size":200,"filled":true,"color":"#111","opacity":1,"angle":-22.3},
   "encoding":{"x":{"field":"f","type":"quantitative","scale":{"domain":[5,15],"nice":false,"zero":false},"axis":null},"y":{"field":"v","type":"quantitative","scale":{"type":"log","domain":[0.0001,7],"nice":false},"axis":null}}},
  {"data":{"values":[{"f":11.1,"v":0.00179}]},"mark":{"type":"point","shape":"M0,0L-0.32,1.1L0.32,1.1Z","size":200,"filled":true,"color":"#111","opacity":1,"angle":90},
   "encoding":{"x":{"field":"f","type":"quantitative","scale":{"domain":[5,15],"nice":false,"zero":false},"axis":null},"y":{"field":"v","type":"quantitative","scale":{"type":"log","domain":[0.0001,7],"nice":false},"axis":null}}},
  {"data":{"values":[{"f":8.11,"v":3.25,"t":"0.04 T"},{"f":8.54,"v":0.66,"t":"0.08 T"},{"f":11.75,"v":0.002,"t":"0.52T"}]},"mark":{"type":"text","fontSize":23,"align":"left","baseline":"middle"},
   "encoding":{"x":{"field":"f","type":"quantitative","scale":{"domain":[5,15],"nice":false,"zero":false},"axis":null},"y":{"field":"v","type":"quantitative","scale":{"type":"log","domain":[0.0001,7],"nice":false},"axis":null},"text":{"field":"t"}}},
  {"data":{"values":[{"f":9.63,"v":0.00076,"t":"H"}]},"mark":{"type":"text","fontSize":23,"fontStyle":"italic","align":"left","baseline":"alphabetic"},
   "encoding":{"x":{"field":"f","type":"quantitative","scale":{"domain":[5,15],"nice":false,"zero":false},"axis":null},"y":{"field":"v","type":"quantitative","scale":{"type":"log","domain":[0.0001,7],"nice":false},"axis":null},"text":{"field":"t"}}},
  {"data":{"values":[{"f":10.02,"v":0.00069,"t":"DC"}]},"mark":{"type":"text","fontSize":16,"align":"left","baseline":"alphabetic"},
   "encoding":{"x":{"field":"f","type":"quantitative","scale":{"domain":[5,15],"nice":false,"zero":false},"axis":null},"y":{"field":"v","type":"quantitative","scale":{"type":"log","domain":[0.0001,7],"nice":false},"axis":null},"text":{"field":"t"}}}
 ]
},
{
 "width":447,"height":322,
 "resolve":{"axis":{"x":"independent","y":"independent"}},
 "layer":[
  {"data":{"name":"bd"},"transform":[{"flatten":["f","v"]}],
   "mark":{"type":"line","interpolate":"monotone","color":"#111","strokeWidth":1.1,"clip":true},
   "encoding":{
    "x":{"field":"f","type":"quantitative","scale":{"domain":[5,15],"nice":false,"zero":false},
         "axis":{"orient":"bottom","values":[5,6.25,7.5,8.75,10,11.25,12.5,13.75,15],"labelExpr":"datum.value % 2.5 === 0 ? format(datum.value, '.1f') : ''","tickSize":{"condition":{"test":"datum.value % 2.5 === 0","value":-5},"value":-3},"title":"f/kHz","labelPadding":14,"titlePadding":14}},
    "y":{"field":"v","type":"quantitative","scale":{"type":"log","domain":[0.00053,6.1],"nice":false},
         "axis":{"orient":"left","values":[0.0006,0.0007,0.0008,0.0009,0.001,0.002,0.003,0.004,0.005,0.006,0.007,0.008,0.009,0.01,0.02,0.03,0.04,0.05,0.06,0.07,0.08,0.09,0.1,0.2,0.3,0.4,0.5,0.6,0.7,0.8,0.9,1,2,3,4,5,6],"labelExpr":"datum.value==1?'10⁰':datum.value==0.1?'10⁻¹':datum.value==0.01?'10⁻²':datum.value==0.001?'10⁻³':''","tickSize":{"condition":{"test":"datum.value==1||datum.value==0.1||datum.value==0.01||datum.value==0.001","value":-5},"value":-3},"title":"αE31/V·A⁻¹","labelPadding":12,"titlePadding":10}},
    "detail":{"field":"h"},
    "strokeDash":{"field":"h","type":"nominal","scale":{"domain":["0.04","0.08","0.12","0.16","0.20","0.24","0.28","0.32","0.36","0.40","0.44","0.48","0.52"],"range":[[3,2],[1,0],[1,0],[1,0],[1,0],[1,0],[1,0],[1,0],[1,0],[1,0],[1,0],[1,0],[1,0]]},"legend":null}}},
  {"data":{"values":[{"f":10.54,"v":0.865,"f2":11.22,"v2":0.474},{"f":12.15,"v":0.0108,"f2":11.75,"v2":0.0484},{"f":10.67,"v":0.00256,"f2":9.23,"v2":0.00256}]},
   "mark":{"type":"rule","color":"#111","strokeWidth":1},
   "encoding":{
    "x":{"field":"f","type":"quantitative","scale":{"domain":[5,15],"nice":false,"zero":false},"axis":{"orient":"top","values":[5,6.25,7.5,8.75,10,11.25,12.5,13.75,15],"labels":false,"title":null,"tickSize":{"condition":{"test":"datum.value % 2.5 === 0","value":-5},"value":-3}}},
    "y":{"field":"v","type":"quantitative","scale":{"type":"log","domain":[0.00053,6.1],"nice":false},"axis":{"orient":"right","values":[0.0006,0.0007,0.0008,0.0009,0.001,0.002,0.003,0.004,0.005,0.006,0.007,0.008,0.009,0.01,0.02,0.03,0.04,0.05,0.06,0.07,0.08,0.09,0.1,0.2,0.3,0.4,0.5,0.6,0.7,0.8,0.9,1,2,3,4,5,6],"labels":false,"title":null,"tickSize":{"condition":{"test":"datum.value==1||datum.value==0.1||datum.value==0.01||datum.value==0.001","value":-5},"value":-3}}},
    "x2":{"field":"f2"},"y2":{"field":"v2"}}},
  {"data":{"values":[{"f":5.49,"v":3.05,"f2":7.68}]},"mark":{"type":"rule","color":"#111","strokeWidth":1,"strokeDash":[11,5]},
   "encoding":{"x":{"field":"f","type":"quantitative","scale":{"domain":[5,15],"nice":false,"zero":false},"axis":null},"y":{"field":"v","type":"quantitative","scale":{"type":"log","domain":[0.00053,6.1],"nice":false},"axis":null},"x2":{"field":"f2"}}},
  {"data":{"values":[{"f":11.22,"v":0.474}]},"mark":{"type":"point","shape":"M0,0L-0.32,1.1L0.32,1.1Z","size":200,"filled":true,"color":"#111","opacity":1,"angle":124},
   "encoding":{"x":{"field":"f","type":"quantitative","scale":{"domain":[5,15],"nice":false,"zero":false},"axis":null},"y":{"field":"v","type":"quantitative","scale":{"type":"log","domain":[0.00053,6.1],"nice":false},"axis":null}}},
  {"data":{"values":[{"f":11.75,"v":0.0484}]},"mark":{"type":"point","shape":"M0,0L-0.32,1.1L0.32,1.1Z","size":200,"filled":true,"color":"#111","opacity":1,"angle":-19},
   "encoding":{"x":{"field":"f","type":"quantitative","scale":{"domain":[5,15],"nice":false,"zero":false},"axis":null},"y":{"field":"v","type":"quantitative","scale":{"type":"log","domain":[0.00053,6.1],"nice":false},"axis":null}}},
  {"data":{"values":[{"f":9.23,"v":0.00256}]},"mark":{"type":"point","shape":"M0,0L-0.32,1.1L0.32,1.1Z","size":200,"filled":true,"color":"#111","opacity":1,"angle":-90},
   "encoding":{"x":{"field":"f","type":"quantitative","scale":{"domain":[5,15],"nice":false,"zero":false},"axis":null},"y":{"field":"v","type":"quantitative","scale":{"type":"log","domain":[0.00053,6.1],"nice":false},"axis":null}}},
  {"data":{"values":[{"f":7.97,"v":3.05,"t":"0.04  T"},{"f":8.86,"v":0.71,"t":"0.08T"},{"f":11.89,"v":0.0066,"t":"0.52 T"}]},"mark":{"type":"text","fontSize":23,"align":"left","baseline":"middle"},
   "encoding":{"x":{"field":"f","type":"quantitative","scale":{"domain":[5,15],"nice":false,"zero":false},"axis":null},"y":{"field":"v","type":"quantitative","scale":{"type":"log","domain":[0.00053,6.1],"nice":false},"axis":null},"text":{"field":"t"}}},
  {"data":{"values":[{"f":9.67,"v":0.0013,"t":"H"}]},"mark":{"type":"text","fontSize":23,"fontStyle":"italic","align":"left","baseline":"alphabetic"},
   "encoding":{"x":{"field":"f","type":"quantitative","scale":{"domain":[5,15],"nice":false,"zero":false},"axis":null},"y":{"field":"v","type":"quantitative","scale":{"type":"log","domain":[0.00053,6.1],"nice":false},"axis":null},"text":{"field":"t"}}},
  {"data":{"values":[{"f":10.08,"v":0.00121,"t":"DC"}]},"mark":{"type":"text","fontSize":16,"align":"left","baseline":"alphabetic"},
   "encoding":{"x":{"field":"f","type":"quantitative","scale":{"domain":[5,15],"nice":false,"zero":false},"axis":null},"y":{"field":"v","type":"quantitative","scale":{"type":"log","domain":[0.00053,6.1],"nice":false},"axis":null},"text":{"field":"t"}}}
 ]
}
]
}
